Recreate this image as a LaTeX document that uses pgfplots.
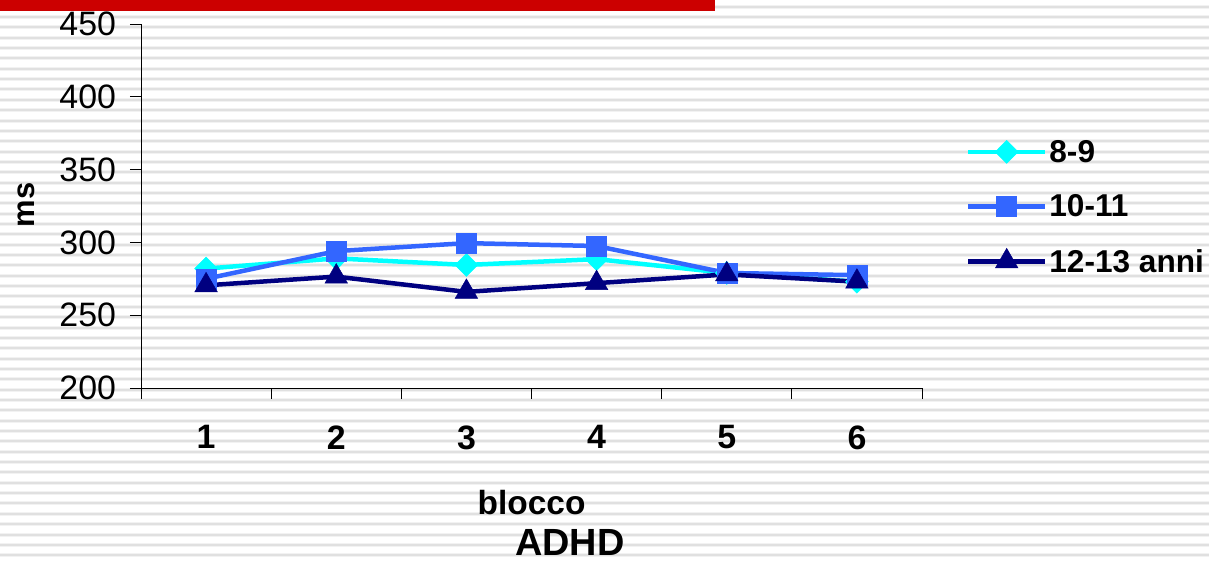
\documentclass[border=0pt]{standalone}
\usepackage{fontspec}
\setmainfont{Liberation Sans}
\usepackage{pgfplots}
\pgfplotsset{compat=1.18}
\definecolor{cyanL}{RGB}{0,255,255}
\definecolor{blueM}{RGB}{51,102,255}
\definecolor{navyD}{RGB}{0,0,128}
\definecolor{redbar}{RGB}{204,0,0}
\begin{document}
\begin{tikzpicture}[x=1bp,y=1bp]
\useasboundingbox (0,0) rectangle (1209,561);
\fill[white] (0,0) rectangle (1209,561);
\foreach \i in {0,...,54}{
  \pgfmathsetmacro\yy{561-6.7-10.35*\i}
  \draw[line width=4bp, gray!10] (0,\yy) -- (1209,\yy);
  \draw[line width=2bp, gray!24] (0,\yy) -- (1209,\yy);
}
\fill[redbar] (0,550.3) rectangle (715,561);
\begin{axis}[
  at={(141bp,173bp)}, anchor=south west,
  scale only axis, width=781bp, height=364bp,
  xmin=0.5, xmax=6.5, ymin=200, ymax=450,
  axis lines=left, axis line style={-, black, line width=0.8bp},
  xtick={1,2,3,4,5,6}, minor xtick={0.5,1.5,2.5,3.5,4.5,5.5,6.5},
  ytick={200,250,300,350,400,450},
  tick align=outside, major tick length=11bp, minor tick length=11bp,
  tick style={black, line width=0.8bp},
  major x tick style={draw=none},
  /pgf/number format/assume math mode=true,
  yticklabel style={font=\fontsize{34}{40}\selectfont, xshift=-10.5bp},
  xticklabel style={font=\bfseries\fontsize{34}{40}\selectfont, yshift=-23bp},
  xlabel={blocco}, ylabel={ms},
  xlabel style={at={(axis description cs:0.5,-0.315)}, anchor=center, font=\bfseries\fontsize{33.6}{40}\selectfont},
  ylabel style={at={(axis description cs:-0.147,0.503)}, anchor=center, rotate=0, font=\bfseries\fontsize{31}{38}\selectfont},
  clip=false,
  legend style={at={(axis description cs:1.056,0.687)}, anchor=north west, draw=none, fill=none, inner sep=0pt, font=\bfseries\fontsize{31.7}{38}\selectfont, row sep=27bp},
  legend cell align=left,
  legend image code/.code={\draw[mark repeat=2,mark phase=2] plot coordinates {(0bp,0bp) (38.5bp,0bp) (77bp,0bp)};},
]
\addplot[cyanL, line width=4.5bp, mark=diamond*, mark size=11.5bp, mark options={xscale=1.33, solid, line width=0.5bp, fill=cyanL}]
  coordinates {(1,282) (2,289) (3,284.5) (4,288.5) (5,279) (6,273)};
\addlegendentry{8-9}
\addplot[blueM, line width=4.5bp, mark=square*, mark size=10bp, mark options={solid, line width=0.5bp, fill=blueM}]
  coordinates {(1,275) (2,294) (3,299.5) (4,297.5) (5,279) (6,277.5)};
\addlegendentry{10-11}
\addplot[navyD, line width=4.5bp, mark=triangle*, mark size=13bp, mark options={solid, line width=0.5bp, fill=navyD}]
  coordinates {(1,270.5) (2,276.5) (3,266) (4,272) (5,278) (6,273)};
\addlegendentry{12-13 anni}
\node[font=\bfseries\fontsize{38}{44}\selectfont, anchor=center, inner sep=0pt] at (axis description cs:0.549,-0.424) {ADHD};
\end{axis}
\end{tikzpicture}
\end{document}
